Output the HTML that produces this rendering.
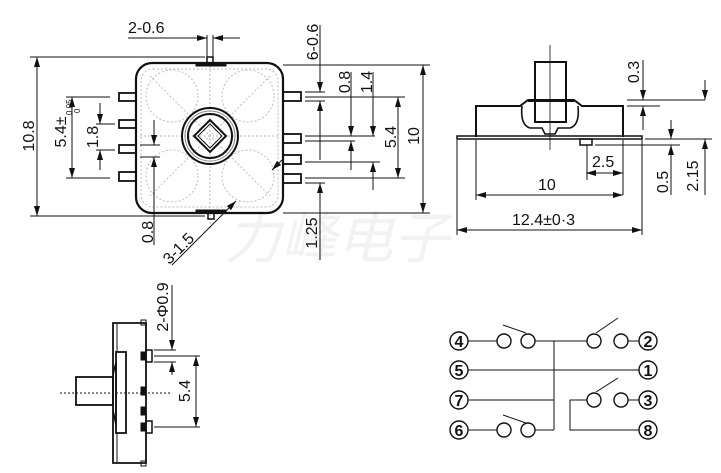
<!DOCTYPE html>
<html><head><meta charset="utf-8"><style>
html,body{margin:0;padding:0;background:#fff;}
svg{display:block;}
text{font-family:"Liberation Sans",Arial,sans-serif;fill:#111;}
</style></head><body>
<svg width="721" height="473" viewBox="0 0 721 473" xmlns="http://www.w3.org/2000/svg">
<defs>
<marker id="a" viewBox="0 0 10 6" refX="10" refY="3" markerWidth="10" markerHeight="6" orient="auto-start-reverse" markerUnits="userSpaceOnUse">
<path d="M0,0 L10,3 L0,6 z" fill="#111"/></marker>
</defs>
<text x="225" y="258" font-size="56" font-style="italic" style="fill:#f2f2f2;font-family:'Noto Sans CJK SC',sans-serif">力峰电子</text>

<g stroke="#111" fill="none" stroke-width="1">
<rect x="136" y="63" width="147" height="150" rx="16" stroke-width="2.2"/>
<g stroke="#bbb" stroke-dasharray="2,2">
<rect x="141" y="69" width="137" height="138" rx="12"/>
<circle cx="172" cy="96" r="26"/><circle cx="248" cy="96" r="26"/>
<circle cx="172" cy="176" r="26"/><circle cx="248" cy="176" r="26"/>
<line x1="210" y1="66" x2="210" y2="230"/><line x1="140" y1="136" x2="280" y2="136"/>
<line x1="150" y1="76" x2="270" y2="196"/><line x1="270" y1="76" x2="150" y2="196"/>
</g>
<circle cx="210" cy="136" r="28" stroke-width="2"/>
<circle cx="210" cy="136" r="22" stroke-width="2"/>
<circle cx="210" cy="136" r="25" stroke="#888"/>
<path d="M210,120 L226,136 L210,152 L194,136 Z" stroke-width="2"/>
<path d="M210,124 L222,136 L210,148 L198,136 Z"/>
<rect x="196" y="63" width="30" height="3" fill="#111"/>
<rect x="207" y="57" width="6" height="6" stroke-width="1.5"/>
<rect x="196" y="210" width="30" height="3" fill="#111"/>
<rect x="208" y="213" width="6" height="6" stroke-width="1.5"/>
<g stroke-width="1.8">
<rect x="119" y="93" width="17" height="8"/><rect x="119" y="120" width="17" height="8"/>
<rect x="119" y="145" width="17" height="8"/><rect x="119" y="172" width="17" height="9"/>
<rect x="283" y="92" width="18" height="9"/><rect x="283" y="134" width="18" height="9"/>
<rect x="283" y="155" width="18" height="9"/><rect x="283" y="174" width="18" height="9"/>
</g>
<line x1="207" y1="35" x2="207" y2="57"/><line x1="213" y1="35" x2="213" y2="57"/>
<line x1="128" y1="38" x2="207" y2="38" marker-end="url(#a)"/>
<line x1="240" y1="38" x2="213" y2="38" marker-end="url(#a)"/>
<line x1="30" y1="57" x2="205" y2="57"/><line x1="30" y1="216" x2="205" y2="216"/>
<line x1="37" y1="57" x2="37" y2="216" marker-start="url(#a)" marker-end="url(#a)"/>
<line x1="66" y1="97" x2="110" y2="97"/><line x1="66" y1="178" x2="110" y2="178"/>
<line x1="72" y1="97" x2="72" y2="178" marker-start="url(#a)" marker-end="url(#a)"/>
<line x1="96" y1="124" x2="115" y2="124"/><line x1="96" y1="150" x2="115" y2="150"/>
<line x1="100" y1="103" x2="100" y2="124" marker-end="url(#a)"/>
<line x1="100" y1="170" x2="100" y2="150" marker-end="url(#a)"/>
<line x1="140" y1="145" x2="160" y2="145"/><line x1="140" y1="157" x2="160" y2="157"/>
<line x1="154" y1="120" x2="154" y2="145" marker-end="url(#a)"/>
<line x1="154" y1="245" x2="154" y2="157" marker-end="url(#a)"/>
<line x1="172" y1="265" x2="236" y2="201" marker-end="url(#a)"/>
<line x1="272" y1="170" x2="282" y2="160" marker-start="url(#a)"/>
<line x1="283" y1="65" x2="430" y2="65"/><line x1="283" y1="213" x2="430" y2="213"/>
<line x1="423" y1="65" x2="423" y2="213" marker-start="url(#a)" marker-end="url(#a)"/>
<line x1="305" y1="97" x2="405" y2="97"/><line x1="305" y1="178" x2="405" y2="178"/>
<line x1="398" y1="97" x2="398" y2="178" marker-start="url(#a)" marker-end="url(#a)"/>
<line x1="305" y1="92" x2="325" y2="92"/><line x1="305" y1="101" x2="325" y2="101"/>
<line x1="320" y1="25" x2="320" y2="92" marker-end="url(#a)"/>
<line x1="320" y1="130" x2="320" y2="101" marker-end="url(#a)"/>
<line x1="305" y1="136" x2="375" y2="136"/><line x1="305" y1="141" x2="355" y2="141"/>
<line x1="320" y1="118" x2="320" y2="160" />
<line x1="320" y1="260" x2="320" y2="183" marker-end="url(#a)"/>
<line x1="305" y1="183" x2="325" y2="183"/>
<line x1="351" y1="72" x2="351" y2="136" marker-end="url(#a)"/>
<line x1="351" y1="170" x2="351" y2="141" marker-end="url(#a)"/>
<line x1="305" y1="162" x2="380" y2="162"/>
<line x1="373" y1="72" x2="373" y2="136" marker-end="url(#a)"/>
<line x1="373" y1="190" x2="373" y2="162" marker-end="url(#a)"/>

<line x1="550" y1="45" x2="550" y2="150" stroke-width="0.8"/>
<rect x="535" y="62" width="31" height="60" stroke-width="2"/>
<path d="M476,137 L476,106 L520,106 L528,100 L574,100 L582,106 L623,106 L623,137" stroke-width="2"/>
<path d="M522,106 Q520,125 530,128 L542,128 L545,134 L555,134 L558,128 L570,128 Q580,125 578,106" stroke-width="1.6"/>
<line x1="528" y1="101" x2="574" y2="101" stroke-width="2"/>
<path d="M457,136 L642,136 L642,139 L457,139 Z" stroke-width="1.5"/>
<rect x="580" y="139" width="12" height="6" stroke-width="1.5"/>
<line x1="627" y1="100" x2="705" y2="100"/><line x1="627" y1="106" x2="660" y2="106"/>
<line x1="643" y1="60" x2="643" y2="100" marker-end="url(#a)"/>
<line x1="643" y1="130" x2="643" y2="106" marker-end="url(#a)"/>
<line x1="705" y1="80" x2="705" y2="100" marker-end="url(#a)"/>
<line x1="645" y1="139" x2="712" y2="139"/><line x1="595" y1="145" x2="680" y2="145"/>
<line x1="671" y1="120" x2="671" y2="139" marker-end="url(#a)"/>
<line x1="671" y1="195" x2="671" y2="145" marker-end="url(#a)"/>
<line x1="705" y1="195" x2="705" y2="139" marker-end="url(#a)"/>
<line x1="587" y1="145" x2="587" y2="180"/>
<line x1="586" y1="173" x2="623" y2="173" marker-start="url(#a)" marker-end="url(#a)"/>
<line x1="623" y1="140" x2="623" y2="195"/>
<line x1="476" y1="140" x2="476" y2="200"/>
<line x1="476" y1="195" x2="623" y2="195" marker-start="url(#a)" marker-end="url(#a)"/>
<line x1="457" y1="140" x2="457" y2="235"/><line x1="642" y1="140" x2="642" y2="235"/>
<line x1="457" y1="230" x2="642" y2="230" marker-start="url(#a)" marker-end="url(#a)"/>

<line x1="60" y1="393" x2="170" y2="393" stroke-dasharray="2,2"/>
<rect x="76" y="377" width="37" height="28" stroke-width="1.8"/>
<path d="M113,375 L116,362 L116,425 L113,410" stroke-width="1.5"/>
<rect x="116" y="352" width="10" height="81" stroke-width="1.8"/>
<path d="M113,323 L146,323 L146,463 L113,463 Z" stroke-width="1.8"/>
<line x1="117" y1="323" x2="117" y2="352"/><line x1="117" y1="433" x2="117" y2="463"/>
<rect x="141" y="320" width="5" height="5"/><rect x="141" y="461" width="5" height="5"/>
<rect x="146" y="350" width="6" height="12" stroke-width="1.5"/><rect x="141" y="352" width="5" height="8" fill="#111"/>
<rect x="146" y="421" width="6" height="12" stroke-width="1.5"/><rect x="141" y="423" width="5" height="8" fill="#111"/>
<rect x="141" y="387" width="5" height="8" fill="#111"/><rect x="141" y="407" width="5" height="8" fill="#111"/>
<line x1="154" y1="350" x2="176" y2="350"/><line x1="154" y1="356" x2="200" y2="356"/>
<line x1="154" y1="362" x2="176" y2="362"/><line x1="154" y1="427" x2="200" y2="427"/>
<line x1="172" y1="285" x2="172" y2="350" marker-end="url(#a)"/>
<line x1="172" y1="375" x2="172" y2="362" marker-end="url(#a)"/>
<line x1="196" y1="356" x2="196" y2="427" marker-start="url(#a)" marker-end="url(#a)"/>

<g stroke-width="1.4">
<circle cx="459" cy="341" r="9"/><circle cx="459" cy="370" r="9"/><circle cx="459" cy="400" r="9"/><circle cx="459" cy="430" r="9"/>
<circle cx="648" cy="341" r="9"/><circle cx="648" cy="370" r="9"/><circle cx="648" cy="400" r="9"/><circle cx="648" cy="430" r="9"/>
<circle cx="504" cy="341" r="7"/><circle cx="528" cy="341" r="7"/><circle cx="594" cy="341" r="7"/><circle cx="621" cy="341" r="7"/>
<circle cx="594" cy="400" r="7"/><circle cx="621" cy="400" r="7"/>
<circle cx="504" cy="430" r="7"/><circle cx="528" cy="430" r="7"/>
</g>
<line x1="468" y1="341" x2="497" y2="341"/><line x1="535" y1="341" x2="587" y2="341"/><line x1="628" y1="341" x2="639" y2="341"/>
<line x1="468" y1="370" x2="639" y2="370"/>
<line x1="468" y1="400" x2="554" y2="400"/>
<line x1="468" y1="430" x2="497" y2="430"/><line x1="535" y1="430" x2="554" y2="430"/>
<line x1="554" y1="341" x2="554" y2="430"/>
<line x1="628" y1="400" x2="639" y2="400"/>
<path d="M587,400 L570,400 L570,430 L639,430"/>
<line x1="503" y1="325" x2="526" y2="333"/>
<line x1="596" y1="333" x2="618" y2="318"/>
<line x1="596" y1="392" x2="618" y2="378"/>
<line x1="503" y1="415" x2="526" y2="423"/>
</g>

<g font-size="16">
<text x="128" y="33">2-0.6</text>
<text x="28" y="136" transform="rotate(-90 28 136)" text-anchor="middle" dy="6">10.8</text>
<text x="60" y="132" transform="rotate(-90 60 132)" text-anchor="middle" dy="6">5.4±</text>
<text x="92" y="137" transform="rotate(-90 92 137)" text-anchor="middle" dy="6">1.8</text>
<text x="147" y="232" transform="rotate(-90 147 232)" text-anchor="middle" dy="6">0.8</text>
<text x="178" y="248" transform="rotate(-45 178 248)" text-anchor="middle" dy="6">3-1.5</text>
<text x="312" y="42" transform="rotate(-90 312 42)" text-anchor="middle" dy="6">6-0.6</text>
<text x="344" y="82" transform="rotate(-90 344 82)" text-anchor="middle" dy="6">0.8</text>
<text x="366" y="82" transform="rotate(-90 366 82)" text-anchor="middle" dy="6">1.4</text>
<text x="390" y="137" transform="rotate(-90 390 137)" text-anchor="middle" dy="6">5.4</text>
<text x="413" y="136" transform="rotate(-90 413 136)" text-anchor="middle" dy="6">10</text>
<text x="311" y="233" transform="rotate(-90 311 233)" text-anchor="middle" dy="6">1.25</text>
<text x="633" y="72" transform="rotate(-90 633 72)" text-anchor="middle" dy="6">0.3</text>
<text x="662" y="182" transform="rotate(-90 662 182)" text-anchor="middle" dy="6">0.5</text>
<text x="692" y="176" transform="rotate(-90 692 176)" text-anchor="middle" dy="6">2.15</text>
<text x="592" y="167">2.5</text>
<text x="538" y="190">10</text>
<text x="512" y="225">12.4±0·3</text>
<text x="162" y="307" transform="rotate(-90 162 307)" text-anchor="middle" dy="6">2-Φ0.9</text>
<text x="184" y="391" transform="rotate(-90 184 391)" text-anchor="middle" dy="6">5.4</text>
</g>
<text x="72" y="115" font-size="8" transform="rotate(-90 72 115)">0.05</text>
<text x="80" y="113" font-size="8" transform="rotate(-90 80 113)">0</text>
<g font-size="16" font-weight="bold" text-anchor="middle">
<text x="459" y="347">4</text><text x="459" y="376">5</text><text x="459" y="406">7</text><text x="459" y="436">6</text>
<text x="648" y="347">2</text><text x="648" y="376">1</text><text x="648" y="406">3</text><text x="648" y="436">8</text>
</g>
</svg>
</body></html>
